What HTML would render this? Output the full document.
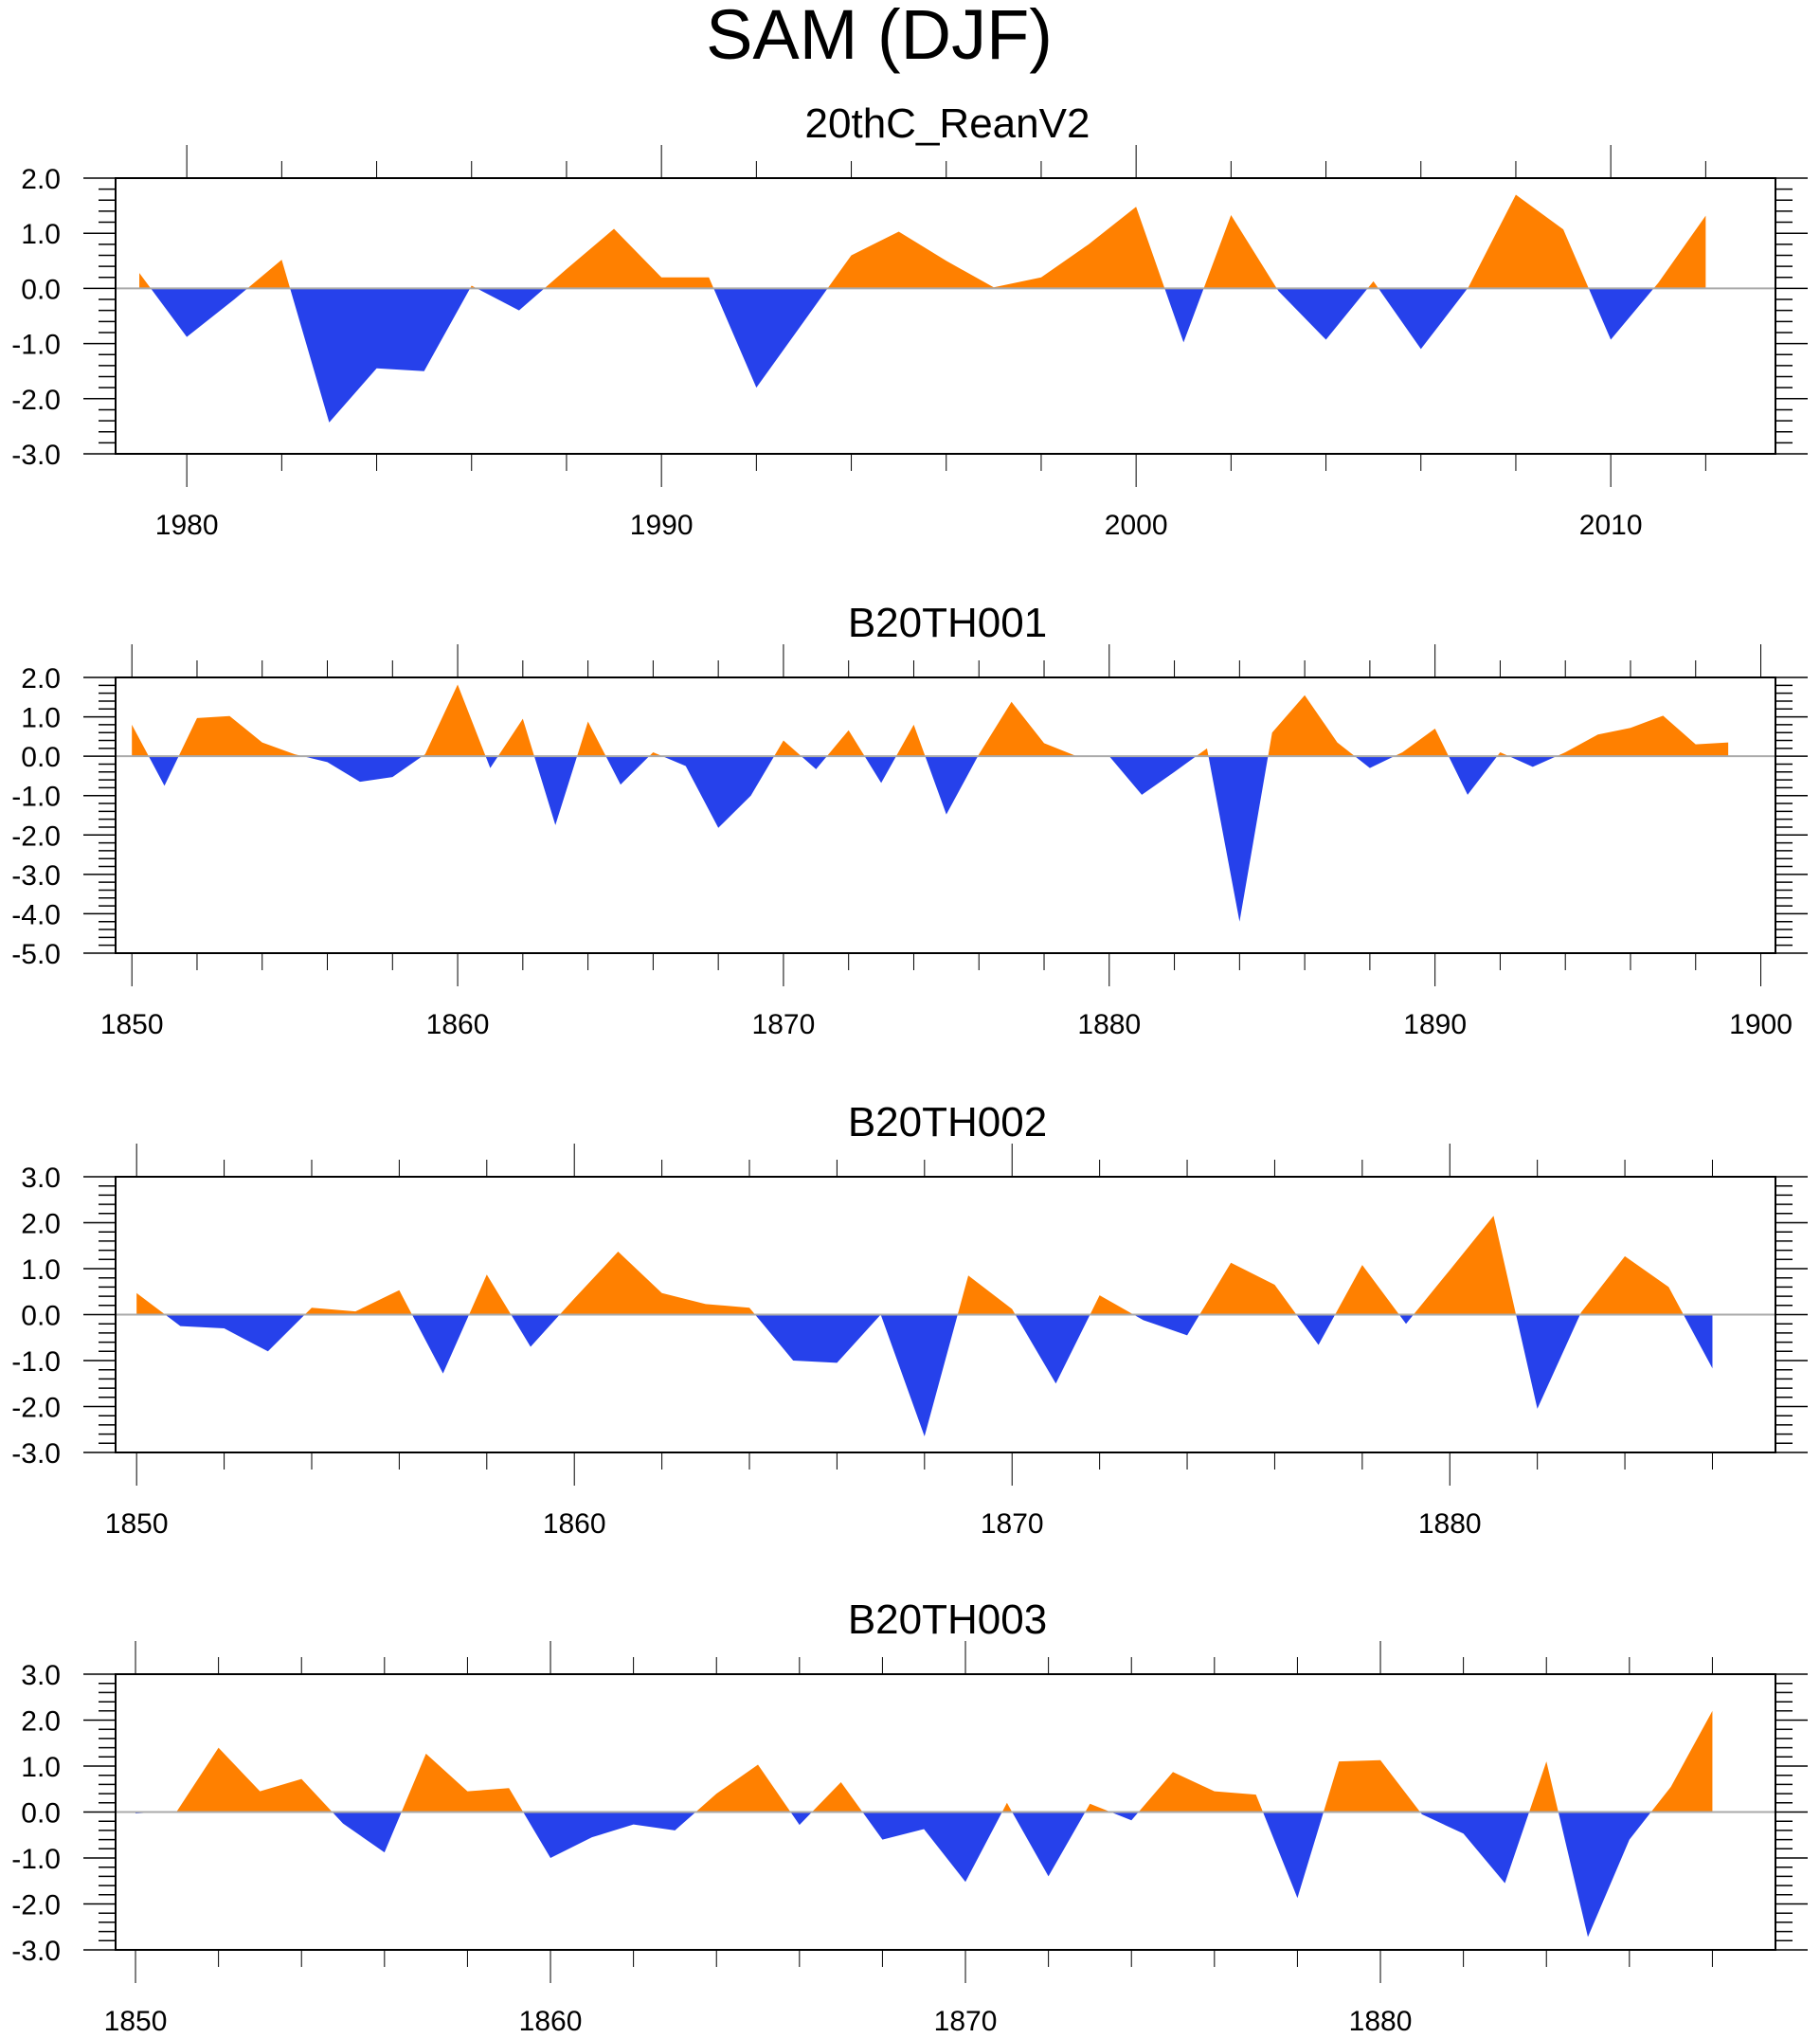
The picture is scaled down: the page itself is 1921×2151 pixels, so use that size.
<!DOCTYPE html>
<html><head><meta charset="utf-8">
<style>
html,body{margin:0;padding:0;background:#fff;}
svg{display:block;font-family:"Liberation Sans",Arial,sans-serif;}
</style></head>
<body>
<svg id="chart" width="1921" height="2151" viewBox="0 0 1921 2151" xmlns="http://www.w3.org/2000/svg">
<text x="928" y="62" font-size="74" text-anchor="middle" fill="#000">SAM (DJF)</text>
</svg>
<script>
// Panel 1: 20thC_ReanV2
const years1 = [1979,1980,1981,1982,1983,1984,1985,1986,1987,1988,1989,1990,1991,1992,1993,1994,1995,1996,1997,1998,1999,2000,2001,2002,2003,2004,2005,2006,2007,2008,2009,2010,2011,2012];
const values1 = [0.28,-0.88,-0.2,0.52,-2.43,-1.45,-1.5,0.05,-0.4,0.35,1.08,0.2,0.2,-1.8,-0.6,0.6,1.03,0.5,0.02,0.2,0.8,1.48,-0.98,1.33,-0.05,-0.93,0.13,-1.1,0.02,1.7,1.07,-0.93,0.1,1.32];
const xticks1 = [1980,1990,2000,2010];
// Panel 2: B20TH001
const values2 = [0.8,-0.75,0.97,1.02,0.35,0.05,-0.15,-0.65,-0.53,0.05,1.82,-0.3,0.95,-1.75,0.88,-0.72,0.1,-0.25,-1.82,-1.0,0.4,-0.33,0.66,-0.68,0.8,-1.48,0.05,1.38,0.33,0.0,0.0,-0.98,-0.4,0.2,-4.2,0.6,1.55,0.35,-0.3,0.1,0.7,-0.98,0.1,-0.27,0.1,0.55,0.72,1.03,0.3,0.35];
const xticks2 = [1850,1860,1870,1880,1890,1900];
// Panel 3: B20TH002
const values3 = [0.47,-0.25,-0.3,-0.8,0.15,0.07,0.53,-1.28,0.87,-0.7,0.35,1.37,0.47,0.23,0.15,-1.0,-1.05,0.0,-2.65,0.85,0.12,-1.5,0.42,-0.12,-0.45,1.13,0.65,-0.66,1.08,-0.2,0.97,2.15,-2.05,0.05,1.27,0.6,-1.17];
const xticks3 = [1850,1860,1870,1880];
// Panel 4: B20TH003
const values4 = [-0.03,0.02,1.4,0.45,0.72,-0.25,-0.88,1.27,0.45,0.52,-1.0,-0.55,-0.27,-0.4,0.4,1.03,-0.28,0.65,-0.6,-0.37,-1.52,0.2,-1.4,0.18,-0.18,0.87,0.45,0.38,-1.87,1.1,1.13,-0.05,-0.47,-1.55,1.1,-2.72,-0.6,0.55,2.2];
const xticks4 = [1850,1860,1870,1880];
const titles = ["20thC_ReanV2","B20TH001","B20TH002","B20TH003"];

const NS="http://www.w3.org/2000/svg";
const svg=document.getElementById('chart');
function mk(tag,attrs,parent){const e=document.createElementNS(NS,tag);for(const k in attrs)e.setAttribute(k,attrs[k]);(parent||svg).appendChild(e);return e;}

const panels=[
 {years:years1,vals:values1,xt:xticks1,x0:1978.5,x1:2013.47,y0:-3,y1:2,top:188},
 {years:values2.map((v,i)=>1850+i),vals:values2,xt:xticks2,x0:1849.5,x1:1900.45,y0:-5,y1:2,top:715},
 {years:values3.map((v,i)=>1850+i),vals:values3,xt:xticks3,x0:1849.52,x1:1887.44,y0:-3,y1:3,top:1242},
 {years:values4.map((v,i)=>1850+i),vals:values4,xt:xticks4,x0:1849.52,x1:1889.52,y0:-3,y1:3,top:1767}
];
const L=122,R=1874,H=291;

panels.forEach((p,pi)=>{
 const T=p.top,B=T+H;
 const xs=v=>L+(v-p.x0)/(p.x1-p.x0)*(R-L);
 const ys=v=>B-(v-p.y0)/(p.y1-p.y0)*H;
 const g=mk('g',{});
 
 
 const t=mk('text',{x:1000,y:T-43,'font-size':44,'text-anchor':'middle'},g);
 
 
 t.textContent=titles[pi];
 const z=ys(0);
 const defs=mk('defs',{},g);
 const cpA=mk('clipPath',{id:'ca'+pi},defs);mk('rect',{x:L,y:T,width:R-L,height:z-T},cpA);
 const cpB=mk('clipPath',{id:'cb'+pi},defs);mk('rect',{x:L,y:z,width:R-L,height:B-z},cpB);
 let d='M'+xs(p.years[0])+','+z;
 p.years.forEach((yr,i)=>{d+=' L'+xs(yr)+','+ys(p.vals[i]);});
 d+=' L'+xs(p.years[p.years.length-1])+','+z+' Z';
 const pos=mk('path',{d:d,fill:'#ff8000','clip-path':'url(#ca'+pi+')'},g);
 
 
 const neg=mk('path',{d:d,fill:'#2641eb','clip-path':'url(#cb'+pi+')'},g);
 
 
 const zl=mk('line',{x1:L,x2:R,y1:z,y2:z,stroke:'#aaa','stroke-width':2},g);
 
 
 const fr=mk('rect',{x:L,y:T,width:R-L,height:H,fill:'none',stroke:'#000','stroke-width':2},g);
 
 
 for(let k=Math.round(p.y0*5);k<=Math.round(p.y1*5);k++){
  const v=k/5,y=ys(v),major=(k%5===0),len=major?34:18;
  mk('line',{x1:L-len,x2:L,y1:y,y2:y,stroke:'#000','stroke-width':1.5},g);
  mk('line',{x1:R,x2:R+len,y1:y,y2:y,stroke:'#000','stroke-width':1.5},g);
  if(major){
   const lb=mk('text',{x:64,y:y+11,'font-size':30,'text-anchor':'end'},g);
   
   
   lb.textContent=v.toFixed(1);
  }
 }
 for(let yr=Math.ceil(p.x0/2)*2;yr<=p.x1;yr+=2){
  const x=xs(yr),major=(yr%10===0),len=major?35:18;
  mk('line',{x1:x,x2:x,y1:T-len,y2:T,stroke:'#000','stroke-width':1},g);
  mk('line',{x1:x,x2:x,y1:B,y2:B+len,stroke:'#000','stroke-width':1},g);
 }
 p.xt.forEach(yr=>{
  const lb=mk('text',{x:xs(yr),y:B+85,'font-size':30,'text-anchor':'middle'},g);
  
  
  lb.textContent=yr;
 });
});
</script>
</body></html>
